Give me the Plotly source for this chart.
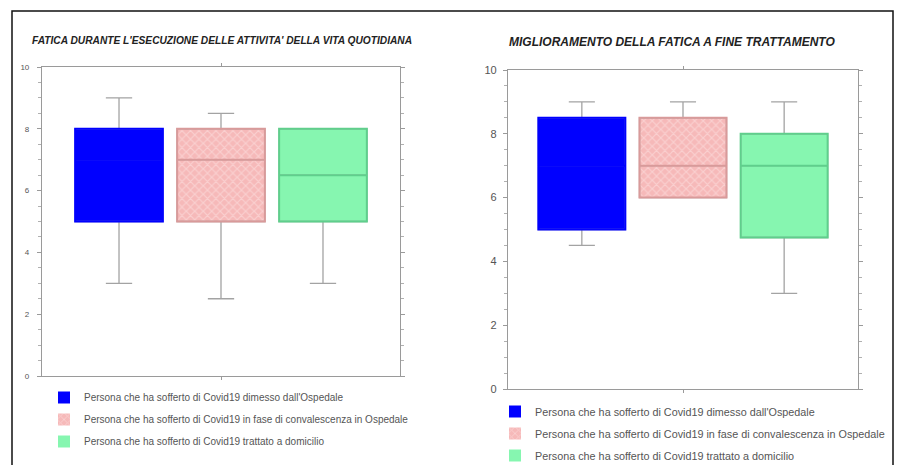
import plotly.graph_objects as go

W, H = 897, 465

groups = [
    "Persona che ha sofferto di Covid19 dimesso dall'Ospedale",
    "Persona che ha sofferto di Covid19 in fase di convalescenza in Ospedale",
    "Persona che ha sofferto di Covid19 trattato a domicilio",
]
positions = [0, 1, 2]

title_left = "FATICA DURANTE L'ESECUZIONE DELLE ATTIVITA' DELLA VITA QUOTIDIANA"
title_right = "MIGLIORAMENTO DELLA FATICA A FINE TRATTAMENTO"

# left panel statistics
L_lo = [3, 2.5, 3]
L_q1 = [5, 5, 5]
L_med = [7, 7, 6.5]
L_q3 = [8, 8, 8]
L_hi = [9, 8.5, 8]

# right panel statistics
R_lo = [4.5, 6, 3]
R_q1 = [5, 6, 4.75]
R_med = [7, 7, 7]
R_q3 = [8.5, 8.5, 8]
R_hi = [9, 9, 9]

ytick_vals = [0, 2, 4, 6, 8, 10]

fills = ["#0000ff", "#f6b9b9", "#86f6b0"]
edges = ["#0000ff", "#d99a9a", "#5fcf8c"]
patterns = ["", "x", ""]
whisker_col = "#a3a3a3"

fig = go.Figure()

def add_panel(lo, q1, med, q3, hi, xa, ya, legend):
    for i in range(3):
        fig.add_trace(go.Bar(
            x=[positions[i]], y=[q3[i] - q1[i]], base=[q1[i]], width=0.86,
            name=groups[i], xaxis=xa, yaxis=ya, legend=legend,
            legendgroup=legend + str(i),
            marker=dict(color=fills[i], line=dict(width=0),
                        pattern=dict(shape=patterns[i], fgcolor="#fde6e6",
                                     bgcolor=fills[i], size=6, solidity=0.35,
                                     fillmode="overlay")),
            showlegend=True,
        ))
    for i in range(3):
        fig.add_trace(go.Box(
            x=[positions[i]], q1=[q1[i]], median=[med[i]], q3=[q3[i]],
            lowerfence=[lo[i]], upperfence=[hi[i]], width=0.86, whiskerwidth=0.3,
            fillcolor="rgba(0,0,0,0)", line=dict(color=whisker_col, width=1.3),
            boxpoints=False, xaxis=xa, yaxis=ya, showlegend=False,
        ))
    for i in range(3):
        fig.add_trace(go.Box(
            x=[positions[i]], q1=[q1[i]], median=[med[i]], q3=[q3[i]],
            lowerfence=[q1[i]], upperfence=[q3[i]], width=0.86, whiskerwidth=0,
            fillcolor="rgba(0,0,0,0)", line=dict(color=edges[i], width=2),
            boxpoints=False, xaxis=xa, yaxis=ya, showlegend=False,
        ))

add_panel(L_lo, L_q1, L_med, L_q3, L_hi, "x", "y", "legend")
add_panel(R_lo, R_q1, R_med, R_q3, R_hi, "x2", "y2", "legend2")

axcommon = dict(showline=True, linecolor="#9a9a9a", linewidth=1.2, mirror="ticks",
                showgrid=False, zeroline=False)

fig.update_layout(
    width=W, height=H, margin=dict(l=0, r=0, t=0, b=0, autoexpand=False),
    paper_bgcolor="white", plot_bgcolor="white",
    barmode="overlay", boxmode="overlay",
    font=dict(family="Arial, Liberation Sans, sans-serif", color="#555"),
    xaxis=dict(domain=[42 / W, 400 / W], range=[-0.755, 2.755], tickvals=[1],
               ticktext=[""], ticks="outside", ticklen=3, tickcolor="#9a9a9a",
               anchor="y", **axcommon),
    yaxis=dict(domain=[1 - 376 / H, 1 - 67 / H], range=[0, 10], tickvals=ytick_vals,
               ticks="outside", ticklen=4, tickcolor="#9a9a9a",
               tickfont=dict(size=8, color="#555"), ticklabelstandoff=6,
               minor=dict(dtick=0.5, ticks="outside", ticklen=3, tickcolor="#b0b0b0"),
               anchor="x", **axcommon),
    xaxis2=dict(domain=[508 / W, 858 / W], range=[-0.73, 2.73], tickvals=[1],
                ticktext=[""], ticks="outside", ticklen=3, tickcolor="#9a9a9a",
                anchor="y2", **axcommon),
    yaxis2=dict(domain=[1 - 389 / H, 1 - 70 / H], range=[0, 10], tickvals=ytick_vals,
                ticks="outside", ticklen=4, tickcolor="#9a9a9a",
                tickfont=dict(size=11, color="#555"), ticklabelstandoff=4,
                minor=dict(dtick=0.5, ticks="outside", ticklen=3, tickcolor="#b0b0b0"),
                anchor="x2", **axcommon),
    legend=dict(x=44 / W, y=1 - 383 / H, xanchor="left", yanchor="top",
                font=dict(size=10, color="#555"), bgcolor="rgba(0,0,0,0)",
                traceorder="grouped", tracegroupgap=3, itemclick=False),
    legend2=dict(x=495 / W, y=1 - 397 / H, xanchor="left", yanchor="top",
                 font=dict(size=10.8, color="#555"), bgcolor="rgba(0,0,0,0)",
                 traceorder="grouped", tracegroupgap=3, itemclick=False),
    annotations=[
        dict(text="<b><i>" + title_left + "</i></b>", x=222 / W, y=1 - 41 / H,
             xref="paper", yref="paper", showarrow=False,
             font=dict(size=10.2, color="#222"), xanchor="center", yanchor="middle"),
        dict(text="<b><i>" + title_right + "</i></b>", x=672 / W, y=1 - 42 / H,
             xref="paper", yref="paper", showarrow=False,
             font=dict(size=12, color="#222"), xanchor="center", yanchor="middle"),
    ],
    shapes=[
        dict(type="rect", xref="paper", yref="paper", x0=12 / W, x1=893 / W,
             y0=-0.05, y1=1 - 11 / H, line=dict(color="#111", width=1.5)),
    ],
)

fig.write_html("out.html")
